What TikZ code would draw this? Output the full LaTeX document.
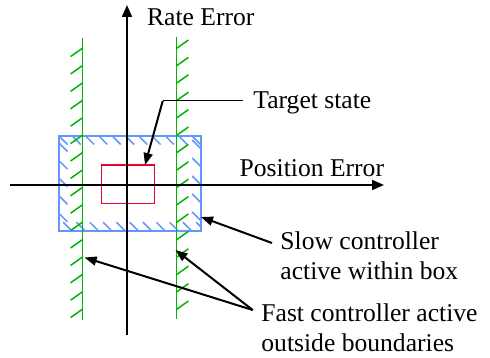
\documentclass[tikz,border=0pt]{standalone}
\usepackage{fontspec}
\setmainfont{Liberation Serif}
\usetikzlibrary{arrows.meta}

\definecolor{bndgreen}{RGB}{0,180,0}
\definecolor{boxblue}{RGB}{100,150,255}
\definecolor{goalred}{RGB}{240,0,40}

\begin{document}
\begin{tikzpicture}[
    x=0.5pt, y=-0.5pt,
    lbl/.style={inner sep=0pt, font=\fontsize{12.8}{15}\selectfont},
    axis/.style={line width=1pt, -{Triangle[length=6pt,width=5pt]}},
    ptr/.style={line width=1pt, -{Triangle[length=6pt,width=4.5pt]}},
    bound/.style={draw=bndgreen, line width=0.75pt},
    tick/.style={draw=bndgreen, line width=0.75pt},
    hatch/.style={draw=boxblue, line width=0.75pt},
    slowbox/.style={draw=boxblue, line width=0.8pt, minimum width=70.85pt,
        minimum height=47.35pt, inner sep=0pt},
    goal/.style={draw=goalred, line width=0.6pt, minimum width=26.5pt,
        minimum height=19.15pt, inner sep=0pt}
]
\useasboundingbox (0,0) rectangle (490,357);

%--- Slow controller box with inner hatching ---%
\node[slowbox] (box) at (129.85,183.35) {};
\begin{scope}
\clip (box.south west) rectangle (box.north east);
\foreach \i in {0,...,10}
    \draw[hatch] (59+13.3*\i,136) -- ++(8.5,8.5);
\foreach \i in {0,...,10}
    \draw[hatch] (63.2+13.3*\i,222.2) -- ++(8.5,8.5);
\foreach \i in {0,...,4}
    \draw[hatch] (59,143+17.6*\i) -- ++(8.5,8.5);
\foreach \i in {0,...,4}
    \draw[hatch] (192.2,140+18*\i) -- ++(8.5,8.5);
\end{scope}

%--- Fast controller boundaries, hatched on the outside ---%
\coordinate (ltop) at (82.3,38);
\coordinate (lbot) at (82.3,320);
\coordinate (rtop) at (176.7,37.3);
\coordinate (rbot) at (176.7,319);
\foreach \i in {0,...,15} {
    \draw[tick] (82.3,48.3+17.4*\i) -- ++(-11.7,8.3);
    \draw[tick] (176.7,48.3+17.4*\i) -- ++(11.7,-8.3);
}
\draw[bound] (ltop) -- (lbot);
\draw[bound] (rtop) -- (rbot);

%--- Target state ---%
\node[goal] (goal) at (128.2,184.15) {};

%--- Axes ---%
\coordinate (xl) at (10,185);
\coordinate (xr) at (384,185);
\coordinate (yb) at (127,335);
\coordinate (yt) at (127,5);
\draw[axis] (xl) -- (xr);
\draw[axis] (yb) -- (yt);

%--- Labels (base west sits on the last line) ---%
\node[lbl, anchor=base west] (rate) at (146.7,25.7) {Rate Error};
\node[lbl, anchor=base west] (pos) at (239.3,176.7) {Position Error};
\node[lbl, anchor=base west] (target) at (253,108.3) {Target state};
\node[lbl, anchor=base west, align=left] (slow) at (280,279)
    {Slow controller\\active within box};
\node[lbl, anchor=base west, align=left] (fast) at (261,351.7)
    {Fast controller active\\outside boundaries};

%--- Pointers ---%
\coordinate (knee) at (162.7,101);
\coordinate (goaltip) at (145,165);
\coordinate (boxtip) at (201,217);
\coordinate (lhit) at (84.6,257.5);
\coordinate (rhit) at (175.5,250);
\draw[line width=0.5pt] ([shift={(-10,-7.3)}]target.base west) -- (knee);
\draw[ptr] (knee) -- (goaltip);
\draw[ptr] ([shift={(-8,-36)}]slow.base west) -- (boxtip);
\draw[ptr] ([shift={(-8.3,-41.7)}]fast.base west) -- (lhit);
\draw[ptr] ([shift={(-8.3,-41.7)}]fast.base west) -- (rhit);

\end{tikzpicture}
\end{document}
